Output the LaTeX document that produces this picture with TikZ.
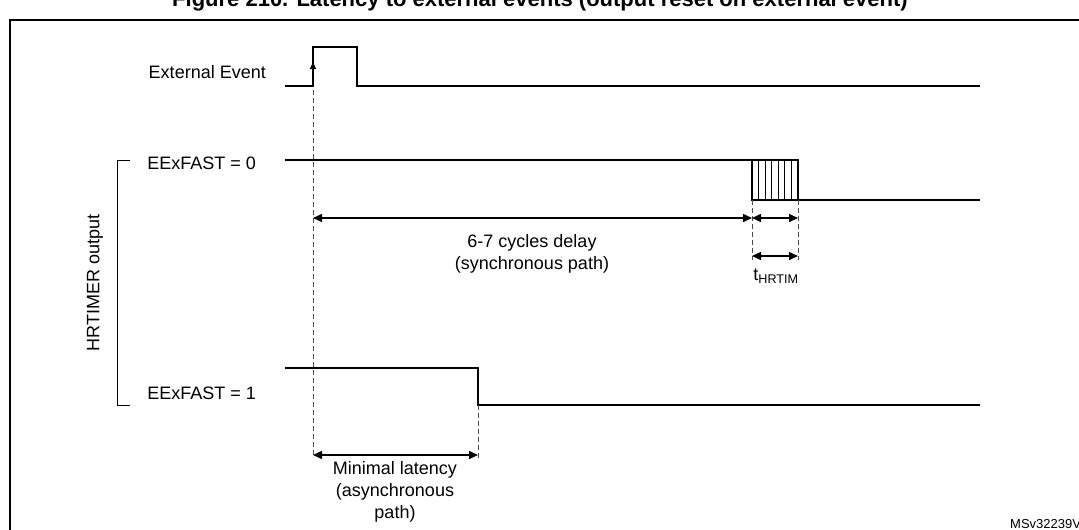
\documentclass[tikz,border=0pt]{standalone}
\usepackage{fontspec}
\setmainfont{Liberation Sans}
\usetikzlibrary{arrows.meta}
\begin{document}
\begin{tikzpicture}[x=1pt,y=-1pt,
  sig/.style={line width=1.6pt},
  dsh/.style={dash pattern=on 5pt off 3pt,gray!60!black,line width=0.8pt},
  dim/.style={{Triangle[length=9pt,width=8pt]}-{Triangle[length=9pt,width=8pt]},line width=1.5pt},
  lab/.style={font=\fontsize{18}{21}\selectfont,inner sep=0pt},
  txt/.style={font=\fontsize{18}{22}\selectfont,inner sep=0pt,align=center}]
\useasboundingbox (0,0) rectangle (1079,530);
\begin{scope}
\clip (0,0) rectangle (1079,530);
\node[font=\bfseries\fontsize{22}{25}\selectfont] (title) at (540,1) {Figure 210. Latency to external events (output reset on external event)};
\draw[line width=1.2pt] (10,540) -- (10,20) -- (1090,20);
\node[font=\fontsize{13}{15}\selectfont,anchor=south west,inner sep=0pt] (ms) at (1010,529) {MSv32239V3};
\end{scope}
% labels
\node[lab,anchor=east] (ee) at (266,72) {External Event};
\node[lab,anchor=east] (e0) at (256,163) {EExFAST = 0};
\node[lab,anchor=east] (e1) at (256,393) {EExFAST = 1};
\node[lab,rotate=90] (hr) at (95,283) {HRTIMER output};
% bracket
\coordinate (b1) at (130,160); \coordinate (b2) at (130,405);
\draw[line width=1pt] (b1) -- ++(-13,0) |- (b2);
% external event
\draw[sig] (285,86) -- (313,86) -- (313,47) -- (357,47) -- (357,86) -- (980,86);
\draw[-{Triangle[length=7pt,width=6pt]},line width=1pt] (313,80) -- (313,62);
% EExFAST=0
\draw[sig] (285,160) -- (798,160) -- (798,200) -- (980,200);
\draw[sig] (752,160) rectangle (798,200);
\foreach \i in {1,...,6} \draw[line width=1pt] (752+\i*46/7,160) -- (752+\i*46/7,200);
% EExFAST=1
\draw[sig] (285,368) -- (478,368) -- (478,405) -- (980,405);
% dashed
\coordinate (d0) at (313,90); \coordinate (d1) at (313,458);
\draw[dsh] (d0) -- (d1);
\draw[dsh] (752,200) -- (752,260);
\draw[dsh] (798,200) -- (798,260);
\draw[dsh] (478,405) -- (478,458);
% dimension arrows
\coordinate (a1) at (313,218); \coordinate (a2) at (752,218); \coordinate (a3) at (798,218);
\draw[dim] (a1) -- (a2);
\draw[dim] (a2) -- (a3);
\draw[dim] (752,256) -- (798,256);
\draw[dim] (313,455) -- (478,455);
\node[txt] (t1) at (532,254) {6-7 cycles delay\\(synchronous path)};
\node[txt] (t2) at (776,276) {t\textsubscript{HRTIM}};
\node[txt] (t3) at (395,492) {Minimal latency\\(asynchronous\\path)};
\end{tikzpicture}
\end{document}
